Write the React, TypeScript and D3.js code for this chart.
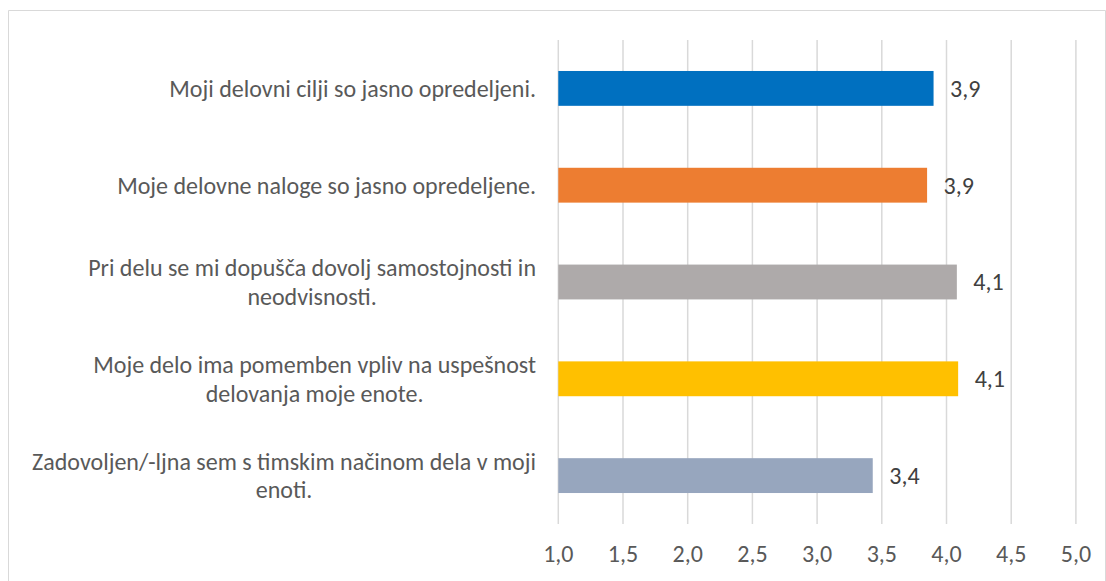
import { useEffect, useRef } from "react";
import * as d3 from "d3";

const categories = [
  "Moji delovni cilji so jasno opredeljeni.",
  "Moje delovne naloge so jasno opredeljene.",
  "Pri delu se mi dopušča dovolj samostojnosti in neodvisnosti.",
  "Moje delo ima pomemben vpliv na uspešnost delovanja moje enote.",
  "Zadovoljen/-ljna sem s timskim načinom dela v moji enoti.",
];
const values = [3.9, 3.85, 4.08, 4.09, 3.43];
const valueLabels = ["3,9", "3,9", "4,1", "4,1", "3,4"];
const barColors = ["#0070C0", "#ED7D31", "#AEAAAA", "#FFC000", "#97A6BE"];
const tickValues = [1, 1.5, 2, 2.5, 3, 3.5, 4, 4.5, 5];
const tickLabels = ["1,0", "1,5", "2,0", "2,5", "3,0", "3,5", "4,0", "4,5", "5,0"];

const W = 1106;
const H = 581;
const FONT = "Carlito, 'Open Sans', 'Noto Sans', sans-serif";
const FS = 24;

const App = () => {
  const ref = useRef<SVGSVGElement>(null);

  useEffect(() => {
    const svg = d3.select(ref.current);
    svg.selectAll("*").remove();

    const x = d3.scaleLinear().domain([1, 5]).range([558.3, 1075.9]);
    const y = d3
      .scaleBand<number>()
      .domain(d3.range(categories.length))
      .range([40, 524])
      .paddingInner(0.64)
      .paddingOuter(0.32);

    // chart border
    svg
      .append("path")
      .attr("d", `M8.5,${H + 5}V10.5H1105.5V${H + 5}`)
      .attr("fill", "none")
      .attr("stroke", "#d9d9d9")
      .attr("stroke-width", 1);

    // gridlines
    svg
      .append("g")
      .selectAll("line")
      .data(tickValues)
      .join("line")
      .attr("x1", d => x(d))
      .attr("x2", d => x(d))
      .attr("y1", 40)
      .attr("y2", 524)
      .attr("stroke", "#d9d9d9")
      .attr("stroke-width", 1.5);

    // tick labels
    svg
      .append("g")
      .selectAll("text")
      .data(tickValues)
      .join("text")
      .attr("x", d => x(d))
      .attr("y", 554)
      .attr("dy", "0.35em")
      .attr("text-anchor", "middle")
      .attr("font-family", FONT)
      .attr("font-size", FS)
      .attr("fill", "#595959")
      .text((d, i) => tickLabels[i]);

    // bars
    svg
      .append("g")
      .selectAll("rect")
      .data(values)
      .join("rect")
      .attr("x", x(1))
      .attr("y", (d, i) => y(i)!)
      .attr("width", d => x(d) - x(1))
      .attr("height", y.bandwidth())
      .attr("fill", (d, i) => barColors[i]);

    // data labels
    svg
      .append("g")
      .selectAll("text")
      .data(values)
      .join("text")
      .attr("x", d => x(d) + 16.5)
      .attr("y", (d, i) => y(i)! + y.bandwidth() / 2)
      .attr("dy", "0.35em")
      .attr("font-family", FONT)
      .attr("font-size", FS)
      .attr("fill", "#404040")
      .text((d, i) => valueLabels[i]);

    // category labels, wrapped and centred in a block ending at x=536
    const wrapWidth = 515;
    const lineH = 28.8;
    const gLab = svg.append("g");
    categories.forEach((cat, i) => {
      const t = gLab
        .append("text")
        .attr("font-family", FONT)
        .attr("font-size", FS)
        .attr("fill", "#595959")
        .attr("text-anchor", "middle");
      const words = cat.split(" ");
      const lines: string[] = [];
      let cur = "";
      const probe = t.append("tspan");
      words.forEach(w => {
        const test = cur ? cur + " " + w : w;
        probe.text(test);
        if ((probe.node() as SVGTSpanElement).getComputedTextLength() > wrapWidth && cur) {
          lines.push(cur);
          cur = w;
        } else {
          cur = test;
        }
      });
      lines.push(cur);
      let maxW = 0;
      lines.forEach(l => {
        probe.text(l);
        maxW = Math.max(maxW, (probe.node() as SVGTSpanElement).getComputedTextLength());
      });
      probe.remove();
      const cx = 536 - maxW / 2;
      const cy = y(i)! + y.bandwidth() / 2;
      lines.forEach((l, k) => {
        t.append("tspan")
          .attr("x", cx)
          .attr("y", cy + (k - (lines.length - 1) / 2) * lineH)
          .attr("dy", "0.35em")
          .text(l);
      });
    });
  }, []);

  return (
    <svg
      ref={ref}
      width={W}
      height={H}
      style={{ position: "absolute", left: 0, top: 0, background: "#fff" }}
    />
  );
};

export default App;
